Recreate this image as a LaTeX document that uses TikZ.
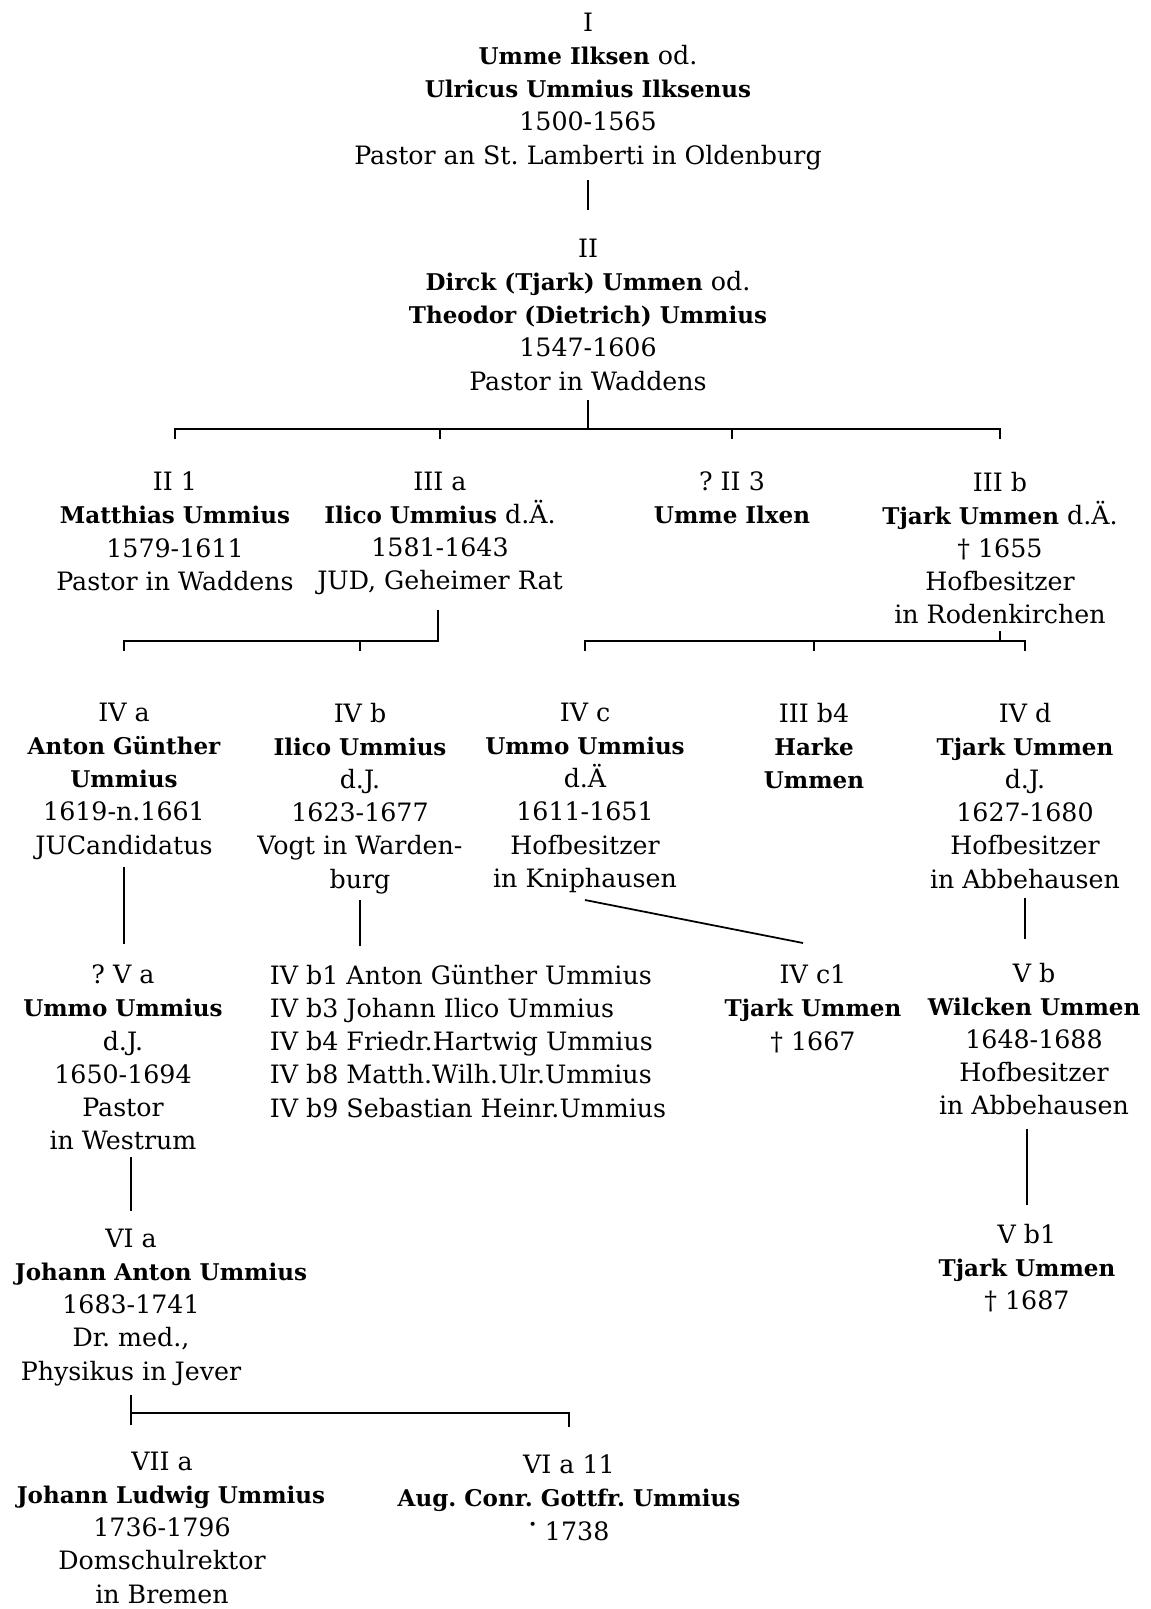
\documentclass[tikz,border=0pt]{standalone}
\usepackage{fontspec}
\setmainfont{DejaVu Serif}
\newfontface\namefont{DejaVu Serif Bold}[Scale=0.91]
\newcommand{\nm}[1]{{\namefont #1}}
\frenchspacing
\tikzset{
    person/.style={align=center,anchor=north,inner sep=0pt,font=\fontsize{14.4}{18.9}\selectfont},
    sons/.style={align=left,anchor=north west,inner sep=0pt,font=\fontsize{14.4}{18.9}\selectfont},
    every path/.style={line width=1pt},
}

\begin{document}
\begin{tikzpicture}[x=0.02cm,y=-0.02cm]
	\useasboundingbox (0,0) rectangle (1150,1609);

	% generations I and II
	\node[person] (i) at (588,12) {I\\ \nm{Umme Ilksen} od.\\ \nm{Ulricus Ummius Ilksenus}\\ 1500-1565\\ Pastor an St. Lamberti in Oldenburg};
	\node[person] (ii) at (588,238) {II\\ \nm{Dirck (Tjark) Ummen} od.\\ \nm{Theodor (Dietrich) Ummius}\\ 1547-1606\\ Pastor in Waddens};

	% generation III
	\node[person] (ii1) at (175,471) {II 1\\ \nm{Matthias Ummius}\\ 1579-1611\\ Pastor in Waddens};
	\node[person] (iiia) at (440,471) {III a\\ \nm{Ilico Ummius} d.Ä.\\ 1581-1643\\ JUD, Geheimer Rat};
	\node[person] (ii3) at (732,471) {? II 3\\ \nm{Umme Ilxen}};
	\node[person] (iiib) at (1000,471) {III b\\ \nm{Tjark Ummen} d.Ä.\\ † 1655\\ Hofbesitzer\\ in Rodenkirchen};

	% generation IV
	\node[person] (iva) at (124,702) {IV a\\ \nm{Anton Günther}\\ \nm{Ummius}\\ 1619-n.1661\\ JUCandidatus};
	\node[person] (ivb) at (360,702) {IV b\\ \nm{Ilico Ummius}\\ d.J.\\ 1623-1677\\ Vogt in Warden-\\ burg};
	\node[person] (ivc) at (585,702) {IV c\\ \nm{Ummo Ummius}\\ d.Ä\\ 1611-1651\\ Hofbesitzer\\ in Kniphausen};
	\node[person] (iiib4) at (814,702) {III b4\\ \nm{Harke}\\ \nm{Ummen}};
	\node[person] (ivd) at (1025,702) {IV d\\ \nm{Tjark Ummen}\\ d.J.\\ 1627-1680\\ Hofbesitzer\\ in Abbehausen};

	% generation V
	\node[person] (va) at (123,964) {? V a\\ \nm{Ummo Ummius}\\ d.J.\\ 1650-1694\\ Pastor\\ in Westrum};
	\node[sons] (ivbsons) at (269,964) {IV b1 Anton Günther Ummius\\ IV b3 Johann Ilico Ummius\\ IV b4 Friedr.Hartwig Ummius\\ IV b8 Matth.Wilh.Ulr.Ummius\\ IV b9 Sebastian Heinr.Ummius};
	\node[person] (ivc1) at (813,964) {IV c1\\ \nm{Tjark Ummen}\\ † 1667};
	\node[person] (vb) at (1034,962) {V b\\ \nm{Wilcken Ummen}\\ 1648-1688\\ Hofbesitzer\\ in Abbehausen};

	% generation VI
	\node[person] (via) at (131,1228) {VI a\\ \hspace*{1.2cm}\nm{Johann Anton Ummius}\\ 1683-1741\\ Dr. med.,\\ Physikus in Jever};
	\node[person] (vb1) at (1027,1223) {V b1\\ \nm{Tjark Ummen}\\ † 1687};

	% generation VII
	\node[person] (viia) at (162,1451) {VII a\\ \hspace*{0.36cm}\nm{Johann Ludwig Ummius}\\ 1736-1796\\ Domschulrektor\\ in Bremen};
	\node[person] (via11) at (569,1454) {VI a 11\\ \nm{Aug. Conr. Gottfr. Ummius}\\ \raisebox{.8ex}{\footnotesize •} 1738};

	% forks
	\coordinate (f1) at (588,429);
	\coordinate (f2) at (438,641);
	\coordinate (f3) at (1000,641);
	\coordinate (f4) at (129,1413);

	\draw (i |- 0,180) -- (ii |- 0,210);
	\draw (ii |- 0,400) -- (f1);
	\draw (ii1 |- 0,439) -- (ii1 |- f1) -- (iiib |- f1) -- (iiib |- 0,439);
	\draw (iiia |- f1) -- (iiia |- 0,439);
	\draw (ii3 |- f1) -- (ii3 |- 0,439);

	\draw (f2 |- 0,610) -- (f2) -- (iva |- f2) -- (iva |- 0,651);
	\draw (ivb |- f2) -- (ivb |- 0,651);
	\draw (iiib |- 0,631) -- (f3);
	\draw (ivc |- 0,651) -- (ivc |- f3) -- (ivd |- f3) -- (ivd |- 0,651);
	\draw (iiib4 |- f3) -- (iiib4 |- 0,651);

	\draw (iva |- 0,867) -- (iva |- 0,944);
	\draw (ivb |- 0,900) -- (ivb |- 0,946);
	\draw (ivc |- 0,900) -- ([xshift=-0.2cm]ivc1 |- 0,943);
	\draw (ivd |- 0,898) -- (ivd |- 0,939);

	\draw (via |- 0,1157) -- (via |- 0,1211);
	\draw (vb1 |- 0,1129) -- (vb1 |- 0,1205);

	\draw (via |- 0,1395) -- (via |- 0,1425);
	\draw (via |- f4) -- (via11 |- f4) -- (via11 |- 0,1427);
\end{tikzpicture}
\end{document}
